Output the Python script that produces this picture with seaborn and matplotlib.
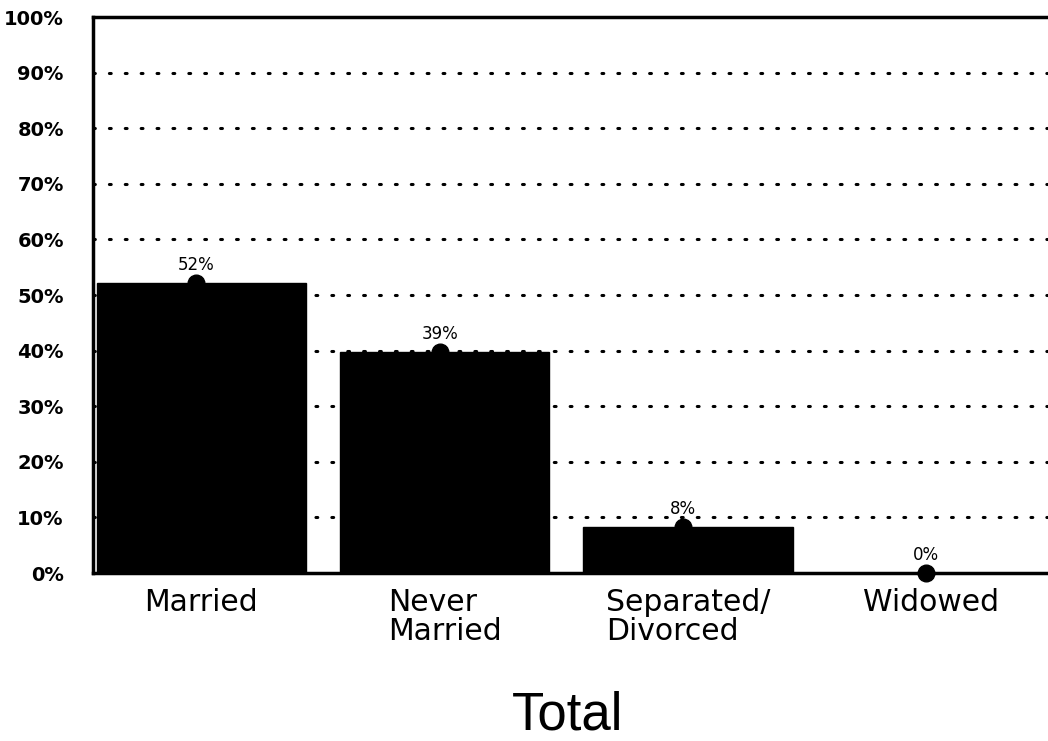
import numpy as np
import pandas as pd
import seaborn as sns
import matplotlib.pyplot as plt

categories = ["Married", "Never\nMarried", "Separated/\nDivorced", "Widowed"]
values = [52.2, 39.7, 8.3, 0.0]
pct_labels = ["52%", "39%", "8%", "0%"]
y_ticks = [0, 10, 20, 30, 40, 50, 60, 70, 80, 90, 100]

df = pd.DataFrame({"category": categories, "value": values})

sns.set_style("white")
plt.rcParams["font.family"] = ["DejaVu Sans"]
plt.rcParams["text.color"] = "black"
plt.rcParams["xtick.color"] = "black"
plt.rcParams["ytick.color"] = "black"

fig = plt.figure(figsize=(10.48, 7.41), dpi=100)
ax = fig.add_axes([0.0887, 0.2267, 0.9113, 0.7503])

sns.barplot(data=df, x="category", y="value", color="black", width=0.86,
            saturation=1, ax=ax, edgecolor="black")

# dots on top of the bars plus their labels
xs = np.arange(len(categories)) - 0.02
ax.plot(xs, values, "o", color="black", markersize=12, zorder=5, clip_on=False)
for x, v, lab in zip(xs, values, pct_labels):
    ax.text(x, v + 1.6, lab, ha="center", va="bottom", fontsize=12)

# dotted grid lines
for t in y_ticks[1:-1]:
    ax.axhline(t, color="black", linestyle=(0, (0.6, 4.6)), linewidth=2.2,
               dash_capstyle="round", zorder=0.5)

ax.set_ylim(0, 100)
ax.set_xlim(-0.445, 3.48)
ax.set_yticks(y_ticks)
ax.set_yticklabels([f"{t}%" for t in y_ticks], fontsize=14, fontweight="bold")
ax.tick_params(axis="y", length=0, pad=21)
ax.tick_params(axis="x", length=0, pad=11)
for lab in ax.get_xticklabels():
    lab.set_fontsize(21.5)
    lab.set_multialignment("left")
    lab.set_linespacing(0.98)
ax.set_xlabel("")
ax.set_ylabel("")

for side in ["left", "bottom", "top"]:
    ax.spines[side].set_linewidth(2.5)
    ax.spines[side].set_color("black")
ax.spines["right"].set_visible(False)

fig.text(568 / 1048, 1 - 729 / 741, "Total", ha="center", va="baseline",
         fontsize=38, family="Liberation Sans")

fig.savefig("out.png", dpi=100)
